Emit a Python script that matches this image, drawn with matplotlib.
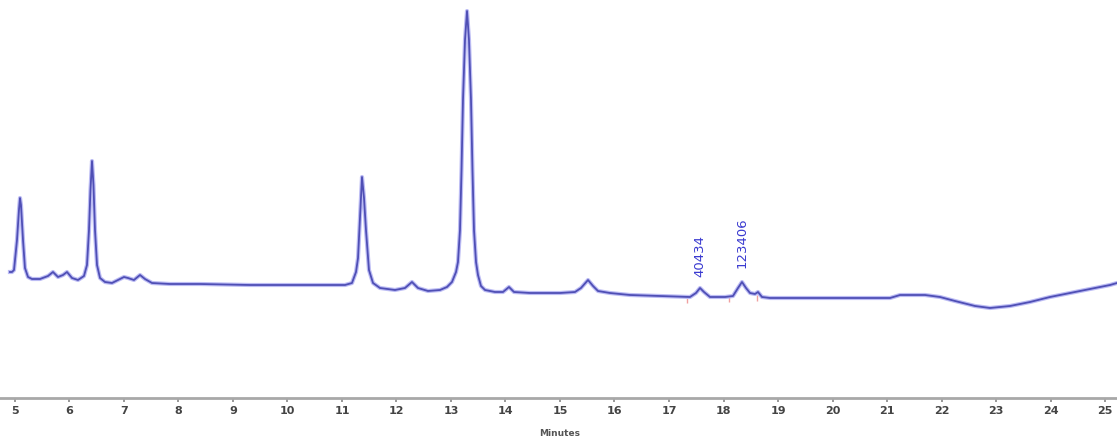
import matplotlib
matplotlib.use("Agg")
import matplotlib.pyplot as plt

# Retention time (minutes) and detector signal (arbitrary units)
time_min = [4.908, 4.945, 4.982, 5.037, 5.073, 5.092, 5.110, 5.147, 5.183, 5.239, 5.312,
            5.459, 5.606, 5.697, 5.789, 5.881, 5.954, 6.046, 6.156, 6.266, 6.321, 6.358,
            6.385, 6.413, 6.440, 6.468, 6.505, 6.560, 6.651, 6.780, 6.890, 7.000, 7.073,
            7.183, 7.294, 7.385, 7.514, 7.844, 8.394, 9.312, 10.229, 11.055, 11.183,
            11.257, 11.294, 11.330, 11.367, 11.404, 11.440, 11.495, 11.569, 11.697,
            11.972, 12.156, 12.284, 12.394, 12.578, 12.798, 12.927, 13.018, 13.092,
            13.128, 13.165, 13.193, 13.220, 13.257, 13.294, 13.330, 13.367, 13.394,
            13.422, 13.459, 13.495, 13.550, 13.624, 13.807, 13.954, 14.064, 14.156,
            14.450, 15.000, 15.275, 15.385, 15.514, 15.606, 15.697, 15.917, 16.284,
            16.835, 17.385, 17.495, 17.569, 17.642, 17.752, 18.028, 18.174, 18.266,
            18.339, 18.413, 18.486, 18.578, 18.633, 18.706, 18.853, 19.404, 20.321,
            21.055, 21.239, 21.697, 21.972, 22.248, 22.615, 22.890, 23.257, 23.624,
            23.991, 24.358, 24.725, 25.092, 25.220]
signal = [126, 126, 128, 158, 188, 200, 193, 158, 130, 121, 119,
          119, 122, 126, 121, 123, 126, 120, 118, 122, 133, 168,
          208, 237, 213, 168, 133, 120, 116, 115, 118, 121, 120,
          118, 123, 119, 115, 114, 114, 113, 113, 113, 115,
          126, 140, 180, 221, 200, 168, 128, 115, 110,
          108, 110, 116, 110, 107, 108, 111, 116, 126,
          136, 168, 228, 298, 358, 387, 358, 298, 228,
          168, 136, 123, 112, 108, 106, 106, 111, 106,
          105, 105, 106, 110, 118, 112, 107, 105, 103,
          102, 101, 105, 110, 106, 101, 101, 102, 110,
          116, 110, 105, 104, 106, 101, 100, 100, 100,
          100, 103, 103, 101, 97, 92, 90, 92, 96,
          101, 105, 109, 113, 115]

tick_values = list(range(5, 26))
peak_times = [17.569, 18.339]
peak_labels = ["40434", "123406"]
peak_label_base = [121, 130]
integration_times = [17.33, 18.10, 18.62]
integration_levels = [98, 99, 100]
x_label = "Minutes"

fig = plt.figure(figsize=(11.17, 4.41), dpi=100)
ax = fig.add_axes([0, 43 / 441, 1, 398 / 441])
ax.set_xlim(4.725, 25.22)
ax.set_ylim(0, 398)

ax.plot(time_min, signal, color="#bcbcf4", lw=3.0, solid_joinstyle="round", zorder=2)
ax.plot(time_min, signal, color="#4f4fb5", lw=1.3, solid_joinstyle="round", zorder=3)

ax.plot(integration_times, integration_levels, linestyle="none", marker="|",
        markersize=4, color="#f0a0a0", zorder=1)

for t, lab, base in zip(peak_times, peak_labels, peak_label_base):
    ax.text(t, base, lab, rotation=90, ha="center", va="bottom", fontsize=9.5,
            color="#3a3ad0")

for side in ["top", "right", "left"]:
    ax.spines[side].set_visible(False)
ax.spines["bottom"].set_color("#a8a8a8")
ax.spines["bottom"].set_linewidth(2)
ax.set_yticks([])
ax.set_xticks(tick_values)
ax.set_xticklabels([str(v) for v in tick_values], fontsize=8, fontweight="bold",
                   color="#444444")
ax.tick_params(axis="x", length=3, width=1.2, color="#888888", pad=3)
fig.text(560 / 1117, 1 - 433 / 441, x_label, ha="center", va="center",
         fontsize=6.5, fontweight="bold", color="#555555")

fig.savefig("out.png", dpi=100)
